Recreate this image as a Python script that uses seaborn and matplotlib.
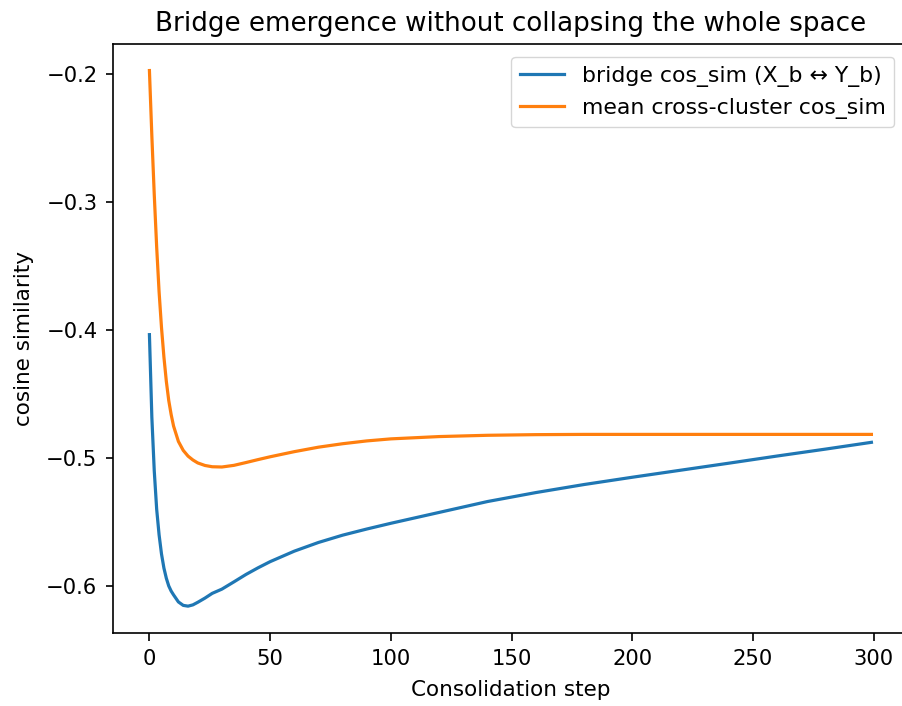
import matplotlib
matplotlib.use("Agg")
import matplotlib.pyplot as plt
import pandas as pd
import seaborn as sns

# Consolidation steps at which the similarities were sampled
steps = [0, 1, 2, 3, 4, 5, 6, 7, 8, 9, 10, 12, 14, 16, 18, 20, 23, 26, 30,
         35, 40, 45, 50, 60, 70, 80, 90, 100, 120, 140, 160, 180, 200, 220,
         240, 260, 280, 299]

# Cosine similarity between the two bridge items (X_b, Y_b)
bridge_cos = [-0.4035, -0.468, -0.510, -0.540, -0.560, -0.575, -0.586,
              -0.594, -0.600, -0.604, -0.607, -0.6125, -0.6152, -0.6158,
              -0.6148, -0.6128, -0.6095, -0.6058, -0.6025, -0.5968, -0.5910,
              -0.5858, -0.5810, -0.5728, -0.5660, -0.5603, -0.5555, -0.5510,
              -0.5425, -0.5340, -0.5270, -0.5207, -0.5150, -0.5095, -0.5040,
              -0.4984, -0.4930, -0.4877]

# Mean cosine similarity across the two clusters
cross_cos = [-0.197, -0.248, -0.294, -0.335, -0.370, -0.398, -0.421, -0.440,
             -0.455, -0.466, -0.475, -0.487, -0.494, -0.4985, -0.5015,
             -0.5038, -0.5058, -0.5068, -0.5070, -0.5057, -0.5035, -0.5012,
             -0.4990, -0.4950, -0.4915, -0.4888, -0.4866, -0.4850, -0.4832,
             -0.4822, -0.4817, -0.4815, -0.4815, -0.4815, -0.4815, -0.4815,
             -0.4815, -0.4815]

bridge_label = "bridge cos_sim (X_b \u2194 Y_b)"
cross_label = "mean cross-cluster cos_sim"

df = pd.DataFrame({"step": steps, "bridge": bridge_cos, "cross": cross_cos})

fig = plt.figure(figsize=(9.03, 7.06), dpi=100)
ax = fig.add_axes([0.1255, 0.1035, 0.8795, 0.8345])

sns.lineplot(data=df, x="step", y="bridge", ax=ax, color="#1f77b4",
             linewidth=2.3, label=bridge_label)
sns.lineplot(data=df, x="step", y="cross", ax=ax, color="#ff7f0e",
             linewidth=2.3, label=cross_label)

ax.set_title("Bridge emergence without collapsing the whole space",
             fontsize=18.8, pad=9)
ax.set_xlabel("Consolidation step", fontsize=15.5, labelpad=8)
ax.set_ylabel("cosine similarity", fontsize=15.5, labelpad=9)
ax.tick_params(labelsize=15.2, length=5.4, width=1.2, pad=6)
ax.set_yticks([-0.6, -0.5, -0.4, -0.3, -0.2])
ax.set_xticks([0, 50, 100, 150, 200, 250, 300])
for s in ax.spines.values():
    s.set_linewidth(1.2)

ax.legend(loc="upper right", fontsize=15.8, borderaxespad=0.6,
          handlelength=2.0)

fig.savefig("out.png", dpi=100)
